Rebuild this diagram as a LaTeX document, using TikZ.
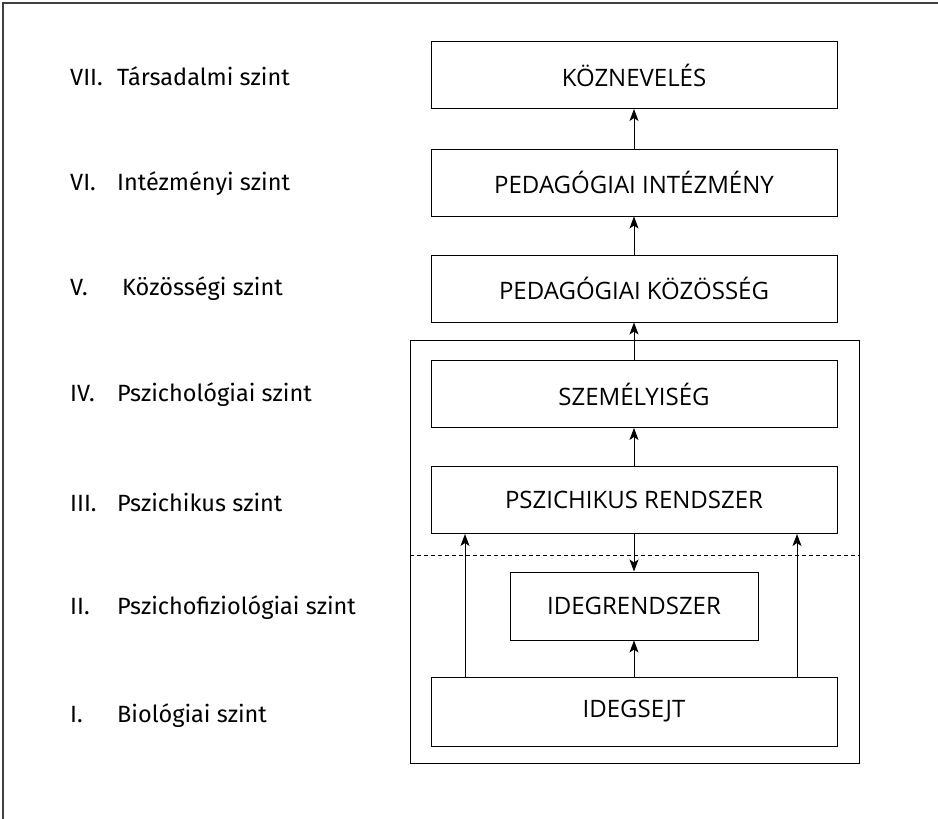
\documentclass[tikz,border=0pt]{standalone}
\usepackage{fontspec}
\setmainfont{Fira Sans}
\newfontfamily\boxfont{Open Sans}
\usetikzlibrary{arrows.meta}
\begin{document}
\begin{tikzpicture}[x=1pt,y=-1pt,
  box/.style={draw,line width=1pt,minimum width=406pt,minimum height=67pt,inner sep=0pt,font=\boxfont\fontsize{24}{26}\selectfont},
  lvl/.style={anchor=west,inner sep=0pt,font=\fontsize{23.5}{26}\selectfont},
  arr/.style={line width=0.9pt,-{Stealth[length=12pt,width=9pt,inset=3pt]}},
  frame/.style={line width=1.6pt,draw=black!75}]
\useasboundingbox (0,0) rectangle (938,819);
\draw[frame] (3,819) -- (3,3) -- (938,3);
% outer box
\node[draw,line width=1pt,minimum width=449pt,minimum height=423pt,inner sep=0pt] (outer) at (634.5,551.5) {};
% boxes
\node[box] (koz) at (634,75) {KÖZNEVELÉS};
\node[box] (int) at (634,182.5) {PEDAGÓGIAI INTÉZMÉNY};
\node[box] (kozo) at (634,288.5) {PEDAGÓGIAI KÖZÖSSÉG};
\node[box] (szem) at (634,394) {SZEMÉLYISÉG};
\node[box] (psz) at (634,500) {PSZICHIKUS RENDSZER};
\node[box,minimum width=248pt,minimum height=68pt] (ideg) at (634,606) {IDEGRENDSZER};
\node[box,minimum height=69pt] (sejt) at (634,711.5) {IDEGSEJT};
% dashed line
\coordinate (dl) at (410,555);
\coordinate (dr) at (859,555);
\draw[dashed,line width=0.8pt,dash pattern=on 4pt off 3pt] (dl) -- (dr);
% arrows
\draw[arr] (sejt.north) -- (ideg.south);
\draw[arr] (psz.south) -- (ideg.north);
\draw[arr] (psz.north) -- (szem.south);
\draw[arr] (szem.north) -- (kozo.south);
\draw[arr] (kozo.north) -- (int.south);
\draw[arr] (int.north) -- (koz.south);
\coordinate (xl) at (465,0);
\coordinate (xr) at (797,0);
\draw[arr] (sejt.north -| xl) -- (psz.south -| xl);
\draw[arr] (sejt.north -| xr) -- (psz.south -| xr);
% level labels
\node[lvl] (l7) at (70,76) {\makebox[47pt][l]{VII.}Társadalmi szint};
\node[lvl] (l6) at (70,184) {\makebox[47pt][l]{VI.}Intézményi szint};
\node[lvl] (l5) at (70,289) {\makebox[52pt][l]{V.}Közösségi szint};
\node[lvl] (l4) at (70,395) {\makebox[47pt][l]{IV.}Pszichológiai szint};
\node[lvl] (l3) at (70,502) {\makebox[47pt][l]{III.}Pszichikus szint};
\node[lvl] (l2) at (70,608) {\makebox[47pt][l]{II.}Pszichofiziológiai szint};
\node[lvl] (l1) at (70,716) {\makebox[47pt][l]{I.}Biológiai szint};
\end{tikzpicture}
\end{document}
